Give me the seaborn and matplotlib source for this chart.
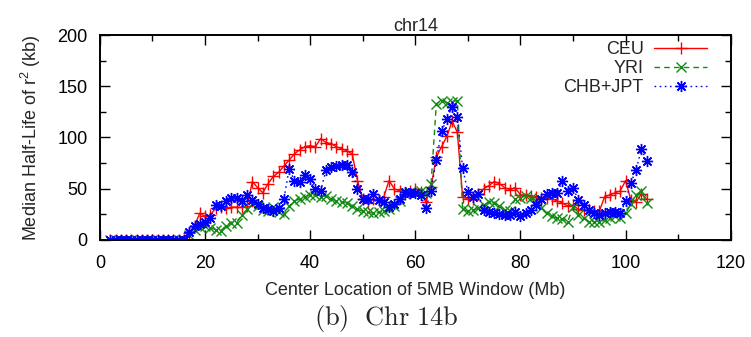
import matplotlib
matplotlib.use("Agg")
import matplotlib.pyplot as plt
import seaborn as sns
import pandas as pd
from matplotlib.ticker import MultipleLocator

# window centres (Mb)
window_mb = list(range(2, 105))

ceu = [0, 0, 0, 0, 0, 0, 0, 0, 0, 0, 0, 0, 0, 0, 0,
       7, 14, 26, 23, 24, 31, 32, 31, 32, 32, 32, 33, 57, 51, 46,
       55, 62, 66, 72, 78, 84, 88, 91, 92, 91, 99, 95, 94, 91, 89,
       87, 84, 58, 40, 36, 40, 39, 42, 58, 50, 48, 45, 48, 50, 47,
       37, 52, 81, 91, 101, 116, 105, 42, 40, 40, 45, 50, 53, 57, 55,
       51, 49, 51, 44, 44, 43, 42, 41, 41, 40, 38, 36, 33, 34, 30,
       29, 29, 28, 28, 42, 44, 46, 48, 58, 39, 37, 45, 40]

yri = [0, 0, 0, 0, 0, 0, 0, 0, 0, 0, 0, 0, 0, 0, 0,
       5, 10, 13, 14, 12, 10, 9, 14, 17, 17, 24, 30, 35, 33, 29,
       28, 32, 27, 25, 33, 38, 40, 42, 44, 44, 42, 43, 40, 38, 37,
       36, 33, 30, 28, 27, 26, 27, 28, 30, 33, 38, 45, 47, 46, 48,
       46, 55, 133, 136, 134, 135, 136, 30, 28, 29, 31, 34, 37, 36, 33,
       29, 28, 40, 41, 43, 41, 38, 31, 26, 23, 21, 20, 18, 32, 24,
       21, 18, 18, 18, 19, 21, 23, 21, 26, 35, 44, 48, 36]

chb_jpt = [0, 0, 0, 0, 0, 0, 0, 0, 0, 0, 0, 0, 0, 0, 0,
           8, 14, 16, 18, 21, 34, 33, 38, 41, 41, 38, 44, 39, 35, 31,
           30, 28, 31, 40, 69, 58, 57, 63, 59, 50, 48, 68, 71, 72, 73,
           73, 66, 50, 40, 40, 45, 39, 37, 32, 35, 40, 47, 46, 46, 44,
           31, 48, 78, 106, 118, 130, 120, 70, 47, 42, 45, 29, 27, 26, 25,
           24, 24, 27, 23, 26, 29, 34, 40, 45, 46, 46, 58, 48, 51, 39,
           34, 29, 26, 24, 26, 27, 27, 26, 38, 56, 68, 89, 77]

series_names = ["CEU", "YRI", "CHB+JPT"]

df = pd.DataFrame({"x": window_mb, "CEU": ceu, "YRI": yri, "CHB+JPT": chb_jpt})

sns.set_theme(style="ticks")
plt.rcParams["font.family"] = ["Liberation Sans", "DejaVu Sans"]
plt.rcParams["mathtext.fontset"] = "custom"
plt.rcParams["mathtext.rm"] = "Liberation Sans"

fig = plt.figure(figsize=(7.51, 3.37), dpi=100)
ax = fig.add_axes([0.133, 0.288, 0.840, 0.608])

styles = {
    "CEU": dict(color="#ff0000", marker="+", linestyle="-", markersize=8),
    "YRI": dict(color="#138a13", marker="x", linestyle=(0, (4, 3)), markersize=6.5),
    "CHB+JPT": dict(color="#0000ff", marker=(8, 2, 0), linestyle=(0, (1.2, 2.5)), markersize=8),
}

for name in series_names:
    st = styles[name]
    sns.lineplot(data=df, x="x", y=name, ax=ax, label=name, linewidth=1.0,
                 markeredgecolor=st["color"], markerfacecolor=st["color"],
                 markeredgewidth=1.0, **st)

ax.set_xlim(0, 120)
ax.set_ylim(0, 200)
ax.xaxis.set_major_locator(MultipleLocator(20))
ax.xaxis.set_minor_locator(MultipleLocator(10))
ax.yaxis.set_major_locator(MultipleLocator(50))
ax.yaxis.set_minor_locator(MultipleLocator(25))
ax.tick_params(which="both", direction="in", top=True, right=True, labelsize=13, colors="black")
ax.tick_params(which="major", length=7, width=1.0)
ax.tick_params(which="minor", length=4, width=1.0)
ax.tick_params(axis="x", which="major", pad=11)
ax.tick_params(axis="y", which="major", pad=9)
for sp in ax.spines.values():
    sp.set_visible(True)
    sp.set_linewidth(1.4)
    sp.set_color("black")

ax.set_xlabel("Center Location of 5MB Window (Mb)", fontsize=13, labelpad=7)
ax.set_ylabel(r"Median Half-Life of r$^{\mathregular{2}}$ (kb)", fontsize=13, labelpad=10)
ax.set_title("chr14", fontsize=13, pad=1)

leg = ax.legend(loc="upper right", frameon=False, markerfirst=False, handlelength=2.9,
                fontsize=13, labelspacing=0.1, borderaxespad=0.15, handletextpad=0.6,
                borderpad=0.2)
leg.set_bbox_to_anchor((0.972, 1.0), transform=ax.transAxes)

fig.text(0.515, 0.055, r"$\mathrm{(b)\ \ Chr\ 14b}$", ha="center", va="center",
         fontsize=19, math_fontfamily="cm")

fig.savefig("out.png", dpi=100)
